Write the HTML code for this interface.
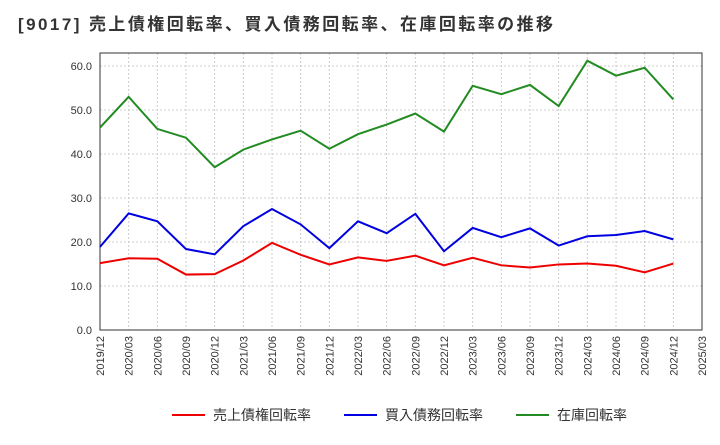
<!DOCTYPE html>
<html><head><meta charset="utf-8"><style>
body{margin:0;background:#fff;width:720px;height:440px;overflow:hidden;font-family:"Liberation Sans","Noto Sans CJK JP",sans-serif}
</style></head><body>
<svg id="chart" width="720" height="440" xmlns="http://www.w3.org/2000/svg">
<text x="18" y="30" font-size="17" font-weight="bold" fill="#333" textLength="535" lengthAdjust="spacing" font-family="Liberation Sans, Noto Sans CJK JP, sans-serif">[9017]  売上債権回転率、買入債務回転率、在庫回転率の推移</text>
<g id="grid"></g><g id="axes"></g><g id="series"></g>
<g font-size="14" fill="#333" font-family="Liberation Sans, Noto Sans CJK JP, sans-serif">
<line x1="172" y1="415" x2="205" y2="415" stroke="#e00" stroke-width="2"/>
<text x="213" y="420">売上債権回転率</text>
<line x1="344" y1="415" x2="377" y2="415" stroke="#0000e0" stroke-width="2"/>
<text x="385" y="420">買入債務回転率</text>
<line x1="516" y1="415" x2="549" y2="415" stroke="#228b22" stroke-width="2"/>
<text x="557" y="420">在庫回転率</text>
</g>
</svg>
<script>
const categories=["2019/12","2020/03","2020/06","2020/09","2020/12","2021/03","2021/06","2021/09","2021/12","2022/03","2022/06","2022/09","2022/12","2023/03","2023/06","2023/09","2023/12","2024/03","2024/06","2024/09","2024/12","2025/03"];
const receivables=[15.2,16.3,16.2,12.6,12.7,15.8,19.8,17.1,14.9,16.5,15.7,16.9,14.7,16.4,14.7,14.2,14.9,15.1,14.6,13.1,15.1];
const payables=[18.9,26.5,24.7,18.4,17.2,23.6,27.5,24.0,18.6,24.7,22.0,26.4,17.9,23.2,21.1,23.1,19.2,21.3,21.6,22.5,20.6];
const inventory=[46.0,53.0,45.7,43.7,37.0,41.0,43.3,45.3,41.2,44.5,46.7,49.2,45.1,55.5,53.6,55.7,50.9,61.2,57.8,59.6,52.4];
const yTicks=[0,10,20,30,40,50,60];
const NS="http://www.w3.org/2000/svg";
const L=100,R=702,T=53,B=330;
const xs=i=>L+i*(R-L)/(categories.length-1);
const ys=v=>B-v*(B-66)/60;
function mk(tag,attrs,parent){const e=document.createElementNS(NS,tag);for(const k in attrs)e.setAttribute(k,attrs[k]);parent.appendChild(e);return e;}
const grid=document.getElementById('grid'),axes=document.getElementById('axes'),ser=document.getElementById('series');
yTicks.forEach(v=>{
 const l=mk('line',{x1:L,x2:R,y1:ys(v),y2:ys(v),stroke:'#ccc','stroke-dasharray':'2,2'},grid);
 
 
 const t=mk('text',{x:L-8,y:ys(v)+4,'text-anchor':'end','font-size':11,fill:'#333'},axes);
 t.textContent=v.toFixed(1);
 
 
});
categories.forEach((c,i)=>{
 const l=mk('line',{x1:xs(i),x2:xs(i),y1:T,y2:B,stroke:'#ccc','stroke-dasharray':'2,2'},grid);
 
 
 const t=mk('text',{x:0,y:0,'text-anchor':'end','font-size':11,fill:'#333',transform:`translate(${xs(i)+4},${B+6}) rotate(-90)`},axes);
 t.textContent=c;
 
 
});
const frame=mk('rect',{x:L,y:T,width:R-L,height:B-T,fill:'none',stroke:'#333'},axes);


[[receivables,'#e00','line-receivables'],[payables,'#0000e0','line-payables'],[inventory,'#228b22','line-inventory']].forEach(([d,c,n])=>{
 const p=mk('polyline',{points:d.map((v,i)=>xs(i)+','+ys(v)).join(' '),fill:'none',stroke:c,'stroke-width':2},ser);
 
 
});
</script>
</body></html>
